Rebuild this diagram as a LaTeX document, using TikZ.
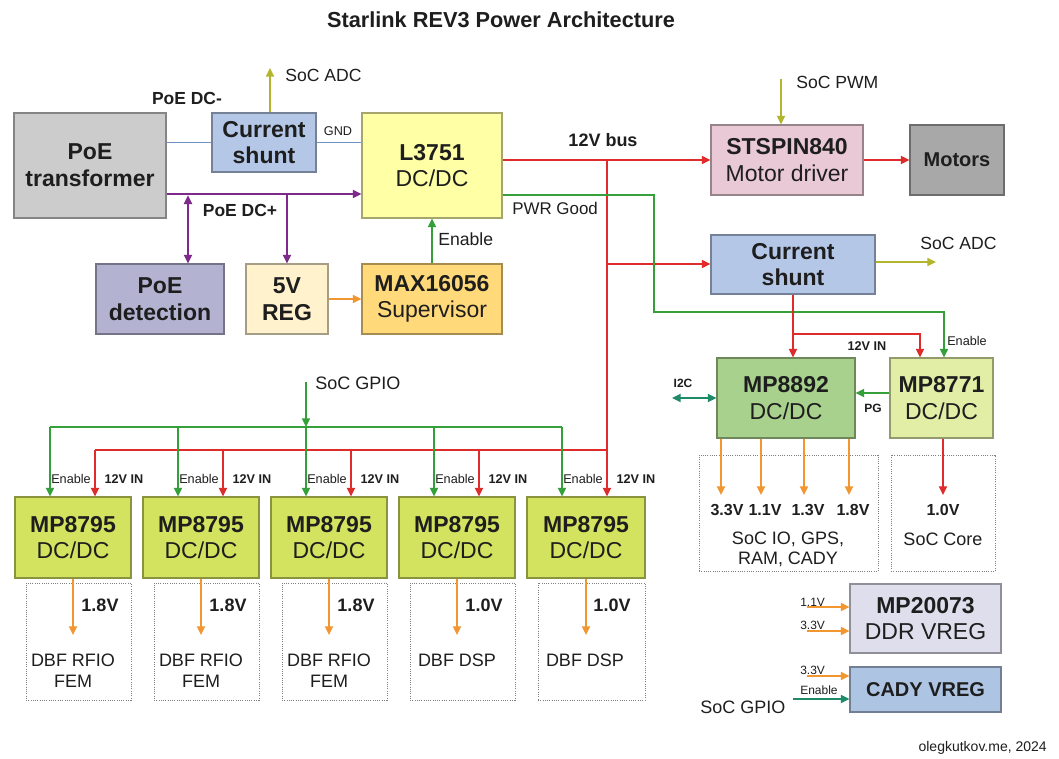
\documentclass[tikz,border=0pt]{standalone}
\usepackage{fontspec}
\setmainfont{Liberation Sans}
\usetikzlibrary{arrows.meta}
\definecolor{txt}{HTML}{1E1E1E}
\definecolor{wred}{HTML}{E02B2B}
\definecolor{wgreen}{HTML}{35A03A}
\definecolor{wpurple}{HTML}{7D2A8A}
\definecolor{worange}{HTML}{F29630}
\definecolor{wolive}{HTML}{B3B52C}
\definecolor{wteal}{HTML}{1E8A68}
\definecolor{wblue}{HTML}{6F93C3}
\definecolor{cpoe}{HTML}{CCCCCC}
\definecolor{cshunt}{HTML}{B4C7E7}
\definecolor{cL}{HTML}{FFFFA6}
\definecolor{cdet}{HTML}{B3B3D1}
\definecolor{creg}{HTML}{FFF2CC}
\definecolor{cmax}{HTML}{FFD97A}
\definecolor{cstspin}{HTML}{E8C9D5}
\definecolor{cmot}{HTML}{A8A8A8}
\definecolor{cmpa}{HTML}{A9D18E}
\definecolor{cmpb}{HTML}{E2EEA6}
\definecolor{cmpc}{HTML}{D4E35F}
\definecolor{cddr}{HTML}{DFDEEC}
\definecolor{ccady}{HTML}{AEC4E3}
\newcommand\mkbox[7]{\node[#6, minimum width={((#4)-(#2))*0.75pt}, minimum height={((#5)-(#3))*0.75pt}] (#1) at ({((#2)+(#4))/2},{((#3)+(#5))/2}) {#7};}
\tikzset{
  blk/.style={fill=#1, draw=#1!65!black, line width=0.8pt, align=center, inner sep=0pt, font=\fontsize{17.25pt}{20pt}\selectfont},
  dotbox/.style={draw=black!50, densely dotted, line width=0.7pt},
  wire/.style={line width=1.4pt},
  arr/.style={-{Triangle[length=6.5pt,width=6pt]}},
  darr/.style={{Triangle[length=6.5pt,width=6pt]}-{Triangle[length=6.5pt,width=6pt]}},
  lbig/.style={font=\fontsize{13.2pt}{15.5pt}\selectfont},
  lmid/.style={font=\fontsize{13.5pt}{15.5pt}\selectfont, align=center},
  lsm/.style={font=\fontsize{9.5pt}{11pt}\selectfont},
  lv/.style={font=\fontsize{12pt}{14pt}\selectfont\bfseries},
}
\begin{document}
\begin{tikzpicture}[x=0.75pt,y=-0.75pt, every node/.style={text=txt, inner sep=0pt}]
\useasboundingbox[fill=white] (0,0) rectangle (1059,758);

% title
\node[font=\fontsize{16.3pt}{19pt}\selectfont\bfseries] (title) at (501,20) {Starlink REV3 Power Architecture};

% boxes
\mkbox{poe}{14}{113}{166}{218}{blk=cpoe}{\bfseries PoE\\\bfseries transformer}
\mkbox{shuntA}{212}{113}{316}{172}{blk=cshunt}{\bfseries Current\\\bfseries shunt}
\mkbox{L}{362}{113}{502}{218}{blk=cL}{\bfseries L3751\\DC/DC}
\mkbox{det}{96}{264}{224}{334}{blk=cdet}{\bfseries PoE\\\bfseries detection}
\mkbox{reg5}{246}{264}{328}{334}{blk=creg}{\bfseries 5V\\\bfseries REG}
\mkbox{max}{362}{264}{502}{334}{blk=cmax}{\bfseries MAX16056\\Supervisor}
\mkbox{stspin}{711}{125}{863}{195}{blk=cstspin}{\bfseries STSPIN840\\Motor driver}
\mkbox{motors}{910}{125}{1004}{195}{blk=cmot, font=\fontsize{15pt}{18pt}\selectfont\bfseries}{Motors}
\mkbox{shuntB}{711}{235}{875}{294}{blk=cshunt}{\bfseries Current\\\bfseries shunt}
\mkbox{mpA}{717}{358}{855}{438}{blk=cmpa}{\bfseries MP8892\\DC/DC}
\mkbox{mpB}{890}{358}{993}{438}{blk=cmpb}{\bfseries MP8771\\DC/DC}
\mkbox{dotA}{699}{455}{878}{571}{dotbox}{}
\mkbox{dotB}{891}{455}{995}{571}{dotbox}{}
\mkbox{ddr}{850}{584}{1001}{653}{blk=cddr}{\bfseries MP20073\\DDR VREG}
\mkbox{cady}{850}{667}{1001}{712}{blk=ccady, font=\fontsize{15pt}{18pt}\selectfont\bfseries}{CADY VREG}

% junction coordinates
\coordinate (adc1) at (270,68);
\coordinate (dcpA) at (188,194);
\coordinate (dcpB) at (287,194);
\coordinate (j12) at (607,160);
\coordinate (jsh) at (607,264);
\coordinate (j12b) at (607,450);
\coordinate (j12a) at (95,450);
\coordinate (pwm) at (781,79);
\coordinate (pg1) at (654,195);
\coordinate (pg2) at (654,312);
\coordinate (pg3) at (944,312);
\coordinate (adc2) at (936,262);
\coordinate (sb1) at (793,334);
\coordinate (sb2) at (920,334);
\coordinate (i2c) at (672,398);
\coordinate (pgl) at (880,393);
\coordinate (gpio) at (306,382);
\coordinate (gj) at (306,427);
\coordinate (gja) at (50,427);
\coordinate (gjb) at (562,427);
\coordinate (i11) at (807,607);
\coordinate (i33) at (807,631);
\coordinate (i33b) at (807,676);
\coordinate (ien) at (793,699);

% top-left connections
\draw[wire,wolive,arr] (shuntA.north -| adc1) -- (adc1);
\draw[line width=1.1pt,wblue] (poe.east |- shuntA.west) -- (shuntA.west);
\draw[line width=1.1pt,wblue] (shuntA.east) -- (L.west |- shuntA.east);
\draw[wire,wpurple,arr] (poe.east |- dcpA) -- (L.west |- dcpA);
\draw[wire,wpurple,darr] ([yshift=-1pt]dcpA) -- (dcpA |- det.north);
\draw[wire,wpurple,arr] (dcpB) -- (dcpB |- reg5.north);
\draw[wire,worange,arr] (reg5.east) -- (max.west);
\draw[wire,wgreen,arr] (max.north) -- (L.south);

% 12V bus
\draw[wire,wred,arr] (L.east |- stspin.west) -- (stspin.west);
\draw[wire,wred,arr] (stspin.east) -- (motors.west);
\draw[wire,wolive,arr] (pwm) -- (pwm |- stspin.north);
\draw[wire,wred] (j12) -- (j12b);
\draw[wire,wred] (j12a) -- (j12b);
\draw[wire,wred,arr] (jsh) -- (shuntB.west |- jsh);
\draw[wire,wolive,arr] (shuntB.east |- adc2) -- (adc2);
\draw[wire,wgreen,arr] (L.east |- pg1) -- (pg1) -- (pg2) -- (pg3) -- (pg3 |- mpB.north);
\draw[wire,wred,arr] (shuntB.south -| sb1) -- (sb1 |- mpA.north);
\draw[wire,wred,arr] (sb1) -- (sb2) -- (sb2 |- mpB.north);
\draw[wire,wteal,darr] (i2c) -- (mpA.west |- i2c);
\draw[wire,wgreen,arr] (mpB.west |- pgl) -- (mpA.east |- pgl);
\foreach \x in {721,761,804,849} \draw[wire,worange,arr] (mpA.south -| \x,0) -- (\x,495);
\draw[wire,wred,arr] (mpB.south -| 943,0) -- (943,495);

% SoC GPIO bus
\draw[wire,wgreen,arr] (gpio) -- (gj);
\draw[wire,wgreen] (gja) -- (gjb);

% MP8795 row
\foreach \i/\xl/\xr/\v/\load in {1/15/131/1.8V/{DBF RFIO\\FEM}, 2/143/259/1.8V/{DBF RFIO\\FEM}, 3/271/387/1.8V/{DBF RFIO\\FEM}, 4/399/515/1.0V/{DBF DSP}, 5/527/645/1.0V/{DBF DSP}}{
  \mkbox{mp\i}{\xl}{497}{\xr}{578}{blk=cmpc}{\bfseries MP8795\\DC/DC}
  \mkbox{ld\i}{\xl+11}{583}{\xr}{700}{dotbox}{}
  \draw[wire,wgreen,arr] (\xl+35,427) -- (mp\i.north -| \xl+35,0);
  \draw[wire,wred,arr] (\xl+80,450) -- (mp\i.north -| \xl+80,0);
  \draw[wire,worange,arr] (mp\i.south) -- (mp\i.south |- 0,635);
  \node[lsm] (en\i) at (\xl+56,479) {Enable};
  \node[lsm,font=\fontsize{9.5pt}{11pt}\selectfont\bfseries] (in\i) at (\xl+109,479) {12V IN};
  \node[font=\fontsize{13.5pt}{15.5pt}\selectfont\bfseries] (v\i) at (\xl+85,605) {\v};
  \node[lmid, anchor=north] (lt\i) at (\xl+58,654) {\load};
}

% bottom right
\draw[wire,worange,arr] (i11) -- (ddr.west |- i11);
\draw[wire,worange,arr] (i33) -- (ddr.west |- i33);
\draw[wire,worange,arr] (i33b) -- (cady.west |- i33b);
\draw[wire,wteal,arr] (ien) -- (cady.west |- ien);

% labels
\node[lbig, anchor=west] (lsocadc) at (285,75) {SoC ADC};
\node[lbig, font=\fontsize{13.1pt}{15pt}\selectfont\bfseries] (lpoedcm) at (187,98) {PoE DC-};
\node[lsm] (lgnd) at (338,131) {GND};
\node[lbig, font=\fontsize{13.1pt}{15pt}\selectfont\bfseries] (lpoedcp) at (240,210) {PoE DC+};
\node[lbig, anchor=west] (lenable) at (438,239) {Enable};
\node[font=\fontsize{13.5pt}{15pt}\selectfont\bfseries] (l12v) at (603,140) {12V bus};
\node[font=\fontsize{12.7pt}{15pt}\selectfont, anchor=west] (lpwr) at (512,208) {PWR Good};
\node[lbig, anchor=west] (lpwm) at (796,82) {SoC PWM};
\node[lbig, anchor=west] (ladc2) at (920,243) {SoC ADC};
\node[lsm, font=\fontsize{9.5pt}{11pt}\selectfont\bfseries] (l12in) at (867,346) {12V IN};
\node[lsm, anchor=west] (len2) at (947,341) {Enable};
\node[font=\fontsize{9pt}{11pt}\selectfont\bfseries] (li2c) at (683,383) {I2C};
\node[font=\fontsize{9pt}{11pt}\selectfont\bfseries] (lpg) at (873,408) {PG};
\node[lv] (v33) at (727,510) {3.3V};
\node[lv] (v11) at (765,510) {1.1V};
\node[lv] (v13) at (808,510) {1.3V};
\node[lv] (v18) at (853,510) {1.8V};
\node[lmid] (lsocio) at (788,549.5) {SoC IO, GPS,\\RAM, CADY};
\node[lv] (v10) at (943,510) {1.0V};
\node[lmid] (lcore) at (943,539) {SoC Core};
\node[lmid, anchor=west] (lgpio) at (315,383) {SoC GPIO};
\node[font=\fontsize{9pt}{11pt}\selectfont, anchor=west] (ra) at (800,602) {1.1V};
\node[font=\fontsize{9pt}{11pt}\selectfont, anchor=west] (rb) at (800,625) {3.3V};
\node[font=\fontsize{9pt}{11pt}\selectfont, anchor=west] (rc) at (800,670) {3.3V};
\node[font=\fontsize{9pt}{11pt}\selectfont, anchor=west] (rd) at (800,690) {Enable};
\node[lmid, anchor=west] (lgpio2) at (700,707) {SoC GPIO};
\node[font=\fontsize{10.5pt}{12pt}\selectfont, anchor=east] (credit) at (1047,748) {olegkutkov.me, 2024};
\end{tikzpicture}
\end{document}
